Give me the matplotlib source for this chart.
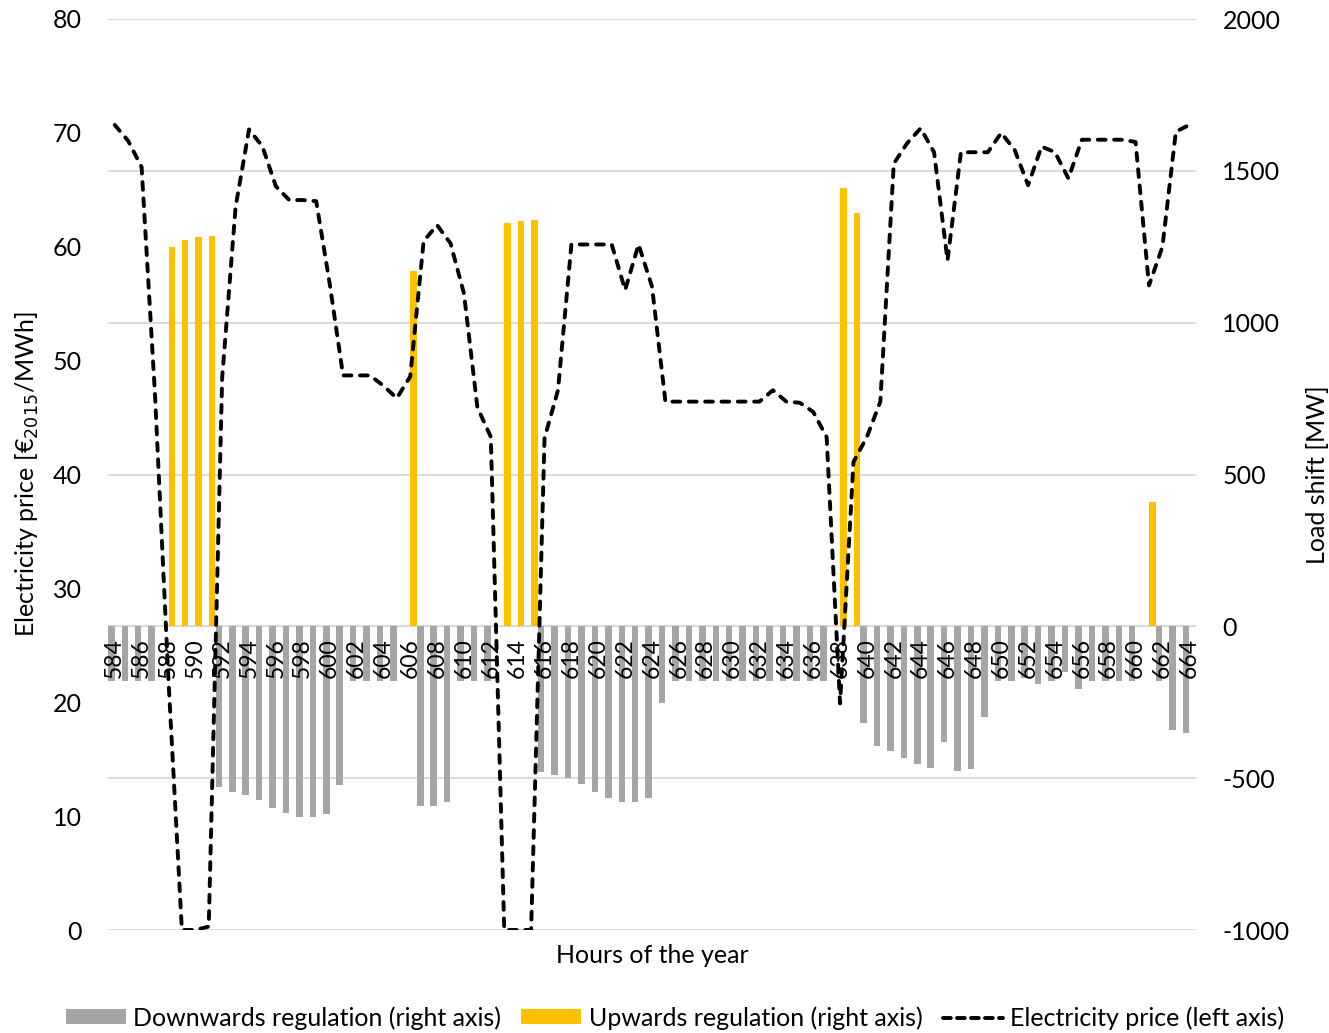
import matplotlib
matplotlib.use("Agg")
import matplotlib.pyplot as plt
from matplotlib.patches import Patch
from matplotlib.lines import Line2D
import numpy as np

plt.rcParams['font.family'] = ['Lato', 'DejaVu Sans']

hours = list(range(584, 665))

downwards = [
    -180, -180, -180, -180, 0, 0, 0, 0,            # 584-591
    -530, -544, -555, -571, -597, -616, -629, -629,  # 592-599
    -618, -523, -180, -180, -180, -180, 0, -591,     # 600-607
    -591, -580, -180, -180, -180, 0, 0, 0,           # 608-615
    -479, -490, -501, -518, -544, -564, -577, -577,  # 616-623
    -566, -253, -180, -180, -180, -180, -180, -180,  # 624-631
    -180, -180, -180, -180, -180, -180, 0, 0,        # 632-639
    -317, -394, -412, -433, -452, -467, -380, -478,  # 640-647
    -469, -298, -180, -180, -171, -191, -180, -152,  # 648-655
    -207, -180, -180, -180, -180, 0, -180, -341,     # 656-663
    -352,                                            # 664
]

upwards = [
    0, 0, 0, 0, 1248, 1271, 1283, 1285,   # 584-591
    0, 0, 0, 0, 0, 0, 0, 0,               # 592-599
    0, 0, 0, 0, 0, 0, 1170, 0,            # 600-607
    0, 0, 0, 0, 0, 1327, 1336, 1339,      # 608-615
    0, 0, 0, 0, 0, 0, 0, 0,               # 616-623
    0, 0, 0, 0, 0, 0, 0, 0,               # 624-631
    0, 0, 0, 0, 0, 0, 1444, 1360,         # 632-639
    0, 0, 0, 0, 0, 0, 0, 0,               # 640-647
    0, 0, 0, 0, 0, 0, 0, 0,               # 648-655
    0, 0, 0, 0, 0, 411, 0, 0,             # 656-663
    0,                                    # 664
]

price = [
    70.7, 69.3, 67.0, 47.0, 22.0, 0.0, 0.0, 0.3,     # 584-591
    48.5, 63.5, 70.3, 68.8, 65.3, 64.1, 64.1, 64.0,  # 592-599
    56.8, 48.7, 48.7, 48.7, 47.8, 46.7, 48.6, 60.5,  # 600-607
    61.9, 60.3, 55.9, 45.9, 43.3, 0.0, 0.0, 0.0,     # 608-615
    43.2, 47.4, 60.2, 60.2, 60.2, 60.2, 56.2, 60.2,  # 616-623
    56.5, 46.4, 46.4, 46.4, 46.4, 46.4, 46.4, 46.4,  # 624-631
    46.4, 47.4, 46.4, 46.3, 45.5, 43.3, 19.9, 41.1,  # 632-639
    43.3, 46.4, 67.3, 69.1, 70.4, 68.3, 58.8, 68.3,  # 640-647
    68.3, 68.3, 70.0, 68.5, 65.4, 68.8, 68.3, 66.0,  # 648-655
    69.4, 69.4, 69.4, 69.4, 69.2, 56.6, 60.0, 70.1,  # 656-663
    70.7,                                            # 664
]

left_ticks = [0, 10, 20, 30, 40, 50, 60, 70, 80]
right_ticks = [-1000, -500, 0, 500, 1000, 1500, 2000]

GRAY = '#A5A5A5'
GOLD = '#FFC000'
GRID = '#D9D9D9'
FS = 18

fig = plt.figure(figsize=(13.29, 10.33), dpi=100)
ax = fig.add_axes([108/1329, 1-930/1033, (1196-108)/1329, (930-19)/1033])
ax2 = ax.twinx()

x = np.arange(len(hours))
w = 0.5
ax2.bar(x - w/2, downwards, width=w*0.97, color=GRAY, zorder=2)
ax2.bar(x + w/2, upwards, width=w*0.97, color=GOLD, zorder=2)
ax2.set_ylim(-1000, 2000)
ax2.set_yticks(right_ticks)
ax2.set_yticklabels([str(t) for t in right_ticks])
ax2.grid(axis='y', color=GRID, linewidth=1.3, zorder=0)
ax2.set_axisbelow(True)
ax2.axhline(0, color=GRID, linewidth=1.5, zorder=1)

# category labels along the zero line
for i, h in enumerate(hours):
    if h % 2 == 0:
        ax2.text(i, -40, str(h), rotation=90, ha='center', va='top',
                 fontsize=16.5, color='black', zorder=3)

ax.plot(x, price, color='black', linewidth=2.8, linestyle=(0, (2.0, 2.2)),
        dash_capstyle='round', solid_capstyle='round', zorder=5)
ax.set_ylim(0, 80)
ax.set_yticks(left_ticks)
ax.set_xlim(-0.5, len(hours) - 0.5)
ax.set_xticks([])
ax.set_zorder(ax2.get_zorder() + 1)
ax.patch.set_visible(False)

for a in (ax, ax2):
    for s in a.spines.values():
        s.set_visible(False)
    a.tick_params(axis='y', length=0, labelsize=FS, colors='black')
ax.tick_params(axis='y', pad=19)
ax2.tick_params(axis='y', pad=19)
ax2.set_xticks([])

ax.set_ylabel('Electricity price [€$_{2015}$/MWh]', fontsize=FS, labelpad=8)
ax2.set_ylabel('Load shift [MW]', fontsize=FS, rotation=90, labelpad=12)
ax.set_xlabel('Hours of the year', fontsize=FS, labelpad=10)

handles = [
    Patch(facecolor=GRAY, label='Downwards regulation (right axis)'),
    Patch(facecolor=GOLD, label='Upwards regulation (right axis)'),
    Line2D([0], [0], color='black', linewidth=2.8, linestyle=(0, (2.0, 1.6)),
           dash_capstyle='round', label='Electricity price (left axis)'),
]
fig.legend(handles=handles, loc='center', bbox_to_anchor=(0.508, 1 - 1018/1033),
           ncol=3, frameon=False, fontsize=FS, handlelength=2.4, handleheight=0.55,
           handletextpad=0.3, columnspacing=0.8)

fig.savefig('out.png', dpi=100)
